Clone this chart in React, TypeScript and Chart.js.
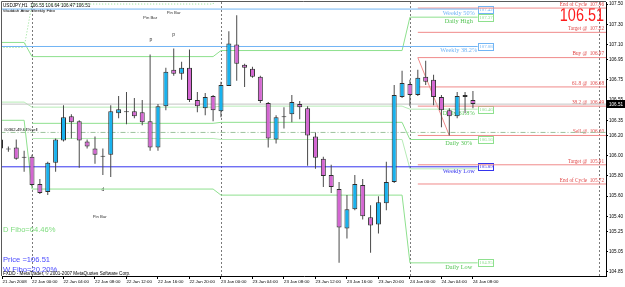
import React, { useEffect, useRef } from "react";
import { Chart, registerables } from "chart.js";

Chart.register(...registerables);

// ---------- candles (USDJPY H1), bar index 0 = 22 Jan 00:00 ----------
const FIRST_BAR = -4;
const opens = [
  106.16, 106.06, 106.08, 105.99, 105.99, 105.72, 105.64, 105.93, 106.15, 106.39,
  106.34, 106.14, 106.07, 106.0, 106.01, 106.42, 106.44, 106.44, 106.43, 106.34,
  106.08, 106.49, 106.85, 106.81, 106.87, 106.55, 106.47, 106.59, 106.44, 106.69,
  107.1, 106.9, 106.86, 106.78, 106.52, 106.16, 106.39, 106.41, 106.51, 106.47,
  106.19, 105.97, 105.81, 105.67, 105.28, 105.47, 105.71, 105.39, 105.32, 105.53,
  105.74, 106.58, 106.71, 106.6, 106.78, 106.75, 106.58, 106.45, 106.39, 106.6, 106.55,
];
const highs = [
  106.18, 106.09, 106.16, 106.05, 106.01, 105.77, 105.94, 106.17, 106.5, 106.41,
  106.35, 106.16, 106.19, 106.07, 106.5, 106.59, 106.63, 106.57, 106.55, 107.0,
  106.51, 106.87, 107.06, 106.93, 107.05, 106.63, 106.62, 106.6, 106.73, 107.23,
  107.39, 106.91, 106.88, 106.79, 106.53, 106.4, 106.48, 106.6, 106.54, 106.49,
  106.23, 105.99, 105.91, 105.74, 105.61, 105.81, 105.77, 105.51, 105.6, 105.94,
  106.7, 106.84, 106.75, 106.85, 106.94, 106.8, 106.6, 106.47, 106.63, 106.63, 106.64,
];
const lows = [
  106.05, 106.04, 105.96, 105.84, 105.7, 105.62, 105.61, 105.84, 106.14, 106.17,
  105.88, 106.07, 105.92, 105.81, 105.79, 106.37, 106.31, 106.37, 106.3, 106.05,
  106.05, 106.45, 106.79, 106.75, 106.53, 106.43, 106.4, 106.34, 106.38, 106.69,
  106.74, 106.68, 106.77, 106.52, 106.08, 106.12, 106.27, 106.33, 106.36, 105.9,
  105.87, 105.69, 105.63, 104.94, 105.18, 105.46, 105.37, 105.04, 105.23, 105.46,
  105.73, 106.57, 106.49, 106.59, 106.7, 106.5, 106.28, 106.2, 106.37, 106.42, 106.47,
];
const closes = [
  106.07, 106.07, 105.97, 105.98, 105.71, 105.63, 105.93, 106.16, 106.38, 106.33,
  106.15, 106.09, 106.01, 105.99, 106.44, 106.46, 106.43, 106.39, 106.33, 106.08,
  106.49, 106.83, 106.81, 106.87, 106.55, 106.49, 106.58, 106.45, 106.7, 107.11,
  106.91, 106.87, 106.78, 106.54, 106.17, 106.38, 106.38, 106.53, 106.48, 106.2,
  105.98, 105.8, 105.69, 105.29, 105.47, 105.72, 105.4, 105.31, 105.54, 105.74,
  106.6, 106.72, 106.6, 106.77, 106.73, 106.58, 106.45, 106.39, 106.59, 106.58, 106.51,
];

// ---------- axes ----------
const xTickBars = [-3.75, 0, 4, 8, 12, 16, 20, 24, 28, 32, 36, 40, 44, 48, 52, 56];
const xTickLabels = [
  "21 Jan 2008", "22 Jan 00:00", "22 Jan 04:00", "22 Jan 08:00", "22 Jan 12:00", "22 Jan 16:00",
  "22 Jan 20:00", "23 Jan 00:00", "23 Jan 04:00", "23 Jan 08:00", "23 Jan 12:00", "23 Jan 16:00",
  "23 Jan 20:00", "24 Jan 00:00", "24 Jan 04:00", "24 Jan 08:00",
];
const yTickValues = [107.5, 107.3, 107.1, 106.95, 106.75, 106.55, 106.35, 106.2, 106.0, 105.8, 105.6, 105.4, 105.25, 105.05, 104.85];
const daySeparatorBars = [0, 24, 48, 72];

// ---------- daily levels (21, 22, 23, 24 Jan) ----------
const dayStartBars = [-4, 0, 24, 48];
const dayEndBars = [-1, 23, 47, 56.6];
const dailyHigh = [107.12, 106.98, 107.04, 107.37];
const dailyTop = [107.07, 107.5, 107.8, 107.8];
const daily618 = [106.53, 106.48, 106.49, 106.46];
const dailyMid = [null, 106.32, 106.33, 106.16];
const daily382 = [null, 106.17, 106.16, 105.87];
const dailyLow = [106.35, 105.67, 105.61, 104.94];
const dailyBoxes = ["107.37", "106.46", "106.16", "104.95"];

// ---------- weekly levels ----------
const weeklyLevels = [107.45, 107.08, 105.89];
const weeklyNames = ["Weekly 50%", "Weekly 38.2%", "Weekly Low"];
const weeklyBoxes = ["107.42", "107.08", "105.89"];

// ---------- signal levels ----------
const signalLevels = [107.46, 107.22, 106.97, 106.68, 106.49, 106.2, 105.91, 105.72];
const signalLabels = [
  "End of Cycle  107.46", "Target @  107.22", "Buy @  106.97", "61.8 @  106.68",
  "38.2 @  106.49", "Sell @  106.20", "Target @  105.91", "End of Cycle  105.72",
];
const signalLineBars = [49, 53];
const signalLinePrices = [106.97, 106.2];
const pivotLevel = 106.23;
const bidPrice = 106.51;

const pinBarBars = [15, 18, 8.6];
const pinBarTextPrices = [107.36, 107.41, 105.4];
const pinMarkBars = [15.1, 18, 9];
const pinMarkPrices = [107.15, 107.2, 105.66];
const pinMarks = ["p", "p", "d"];

const BULL = "#18b2ee";
const BEAR = "#d466d2";
const OUTLINE = "#2e2e2e";
const WICK = "#4a4a4a";
const GREEN = "#8ee08e";
const GREEN_LIGHT = "#b6ebb6";
const GREEN_TEXT = "#55c455";
const WEEK_BLUE = "#72b5f4";
const WEEK_LOW = "#3434ee";
const RED_LINE = "#f08a8a";
const RED_TEXT = "#e04646";

function stepPoints(values: (number | null)[]) {
  const pts: { x: number; y: number }[] = [];
  values.forEach((v, d) => {
    if (v !== null && v !== undefined) {
      pts.push({ x: dayStartBars[d], y: v }, { x: dayEndBars[d], y: v });
    }
  });
  return pts;
}

function lineDs(data: any[], color: string, dash: number[] = [], width = 1) {
  return {
    type: "line",
    data,
    borderColor: color,
    borderWidth: width,
    borderDash: dash,
    pointRadius: 0,
    tension: 0,
    fill: false,
    order: 2,
  };
}

const overlay = {
  id: "mtOverlay",
  beforeDatasetsDraw(chart: any) {
    const { ctx, chartArea: ca, scales } = chart;
    const px = (b: number) => scales.x.getPixelForValue(b);
    const py = (p: number) => scales.y.getPixelForValue(p);
    const text = (s: string, x: number, y: number, font: string, color: string, align = "left", base = "alphabetic") => {
      ctx.font = font;
      ctx.fillStyle = color;
      ctx.textAlign = align;
      ctx.textBaseline = base;
      ctx.fillText(s, x, y);
    };
    ctx.save();
    ctx.beginPath();
    ctx.rect(ca.left, ca.top, ca.right - ca.left, ca.bottom - ca.top);
    ctx.clip();

    ctx.strokeStyle = "#7a7a7a";
    ctx.lineWidth = 1;
    ctx.setLineDash([2, 2]);
    daySeparatorBars.forEach((b) => {
      const x = Math.round(px(b)) + 0.5;
      ctx.beginPath();
      ctx.moveTo(x, ca.top);
      ctx.lineTo(x, ca.bottom);
      ctx.stroke();
    });
    ctx.setLineDash([]);

    // level names
    const nameX = px(54.2);
    const serif = '6.3px "Liberation Serif"';
    const names: [string, number, string][] = [
      [weeklyNames[0], weeklyLevels[0], WEEK_BLUE],
      ["Daily High", dailyHigh[3], GREEN_TEXT],
      [weeklyNames[1], weeklyLevels[1], WEEK_BLUE],
      ["Daily 61.8%", daily618[3], GREEN_TEXT],
      ["Daily 30%", dailyMid[3] as number, GREEN_TEXT],
      [weeklyNames[2], weeklyLevels[2], WEEK_LOW],
      ["Daily Low", dailyLow[3], GREEN_TEXT],
    ];
    names.forEach(([s, v, c]) => text(s, nameX, py(v) + 1, serif, c, "center", "top"));

    // value boxes
    const bx = Math.round(px(56.6)) + 0.5;
    const boxes: [string, number, string][] = [
      [weeklyBoxes[0], weeklyLevels[0], WEEK_BLUE],
      [dailyBoxes[0], dailyHigh[3], GREEN],
      [weeklyBoxes[1], weeklyLevels[1], WEEK_BLUE],
      [dailyBoxes[1], daily618[3], GREEN],
      [dailyBoxes[2], dailyMid[3] as number, GREEN],
      [weeklyBoxes[2], weeklyLevels[2], WEEK_LOW],
      [dailyBoxes[3], dailyLow[3], GREEN],
    ];
    boxes.forEach(([s, v, c]) => {
      const y = Math.round(py(v) - 3.5) + 0.5;
      ctx.fillStyle = "#ffffff";
      ctx.fillRect(bx, y, 15, 7);
      ctx.strokeStyle = c;
      ctx.strokeRect(bx, y, 15, 7);
      text(s, bx + 7.5, y + 3.7, '4.9px "Liberation Serif"', c, "center", "middle");
    });

    // signal labels
    signalLevels.forEach((v, k) =>
      text(signalLabels[k], px(72.65), py(v) - 1, '5.2px "Liberation Serif"', RED_TEXT, "right", "bottom")
    );

    // big bid
    ctx.save();
    ctx.font = '19px "Liberation Sans"';
    ctx.fillStyle = "#ff1c1c";
    ctx.textAlign = "right";
    ctx.textBaseline = "alphabetic";
    ctx.translate(ca.right - 2, ca.top + 19);
    ctx.scale(0.76, 1);
    ctx.fillText(bidPrice.toFixed(2), 0, 0);
    ctx.restore();

    // header texts
    const small = '4.6px "Liberation Sans"';
    text("USDJPY,H1  106.55 106.64 106.47 106.51", ca.left + 1, ca.top + 5, small, "#000");
    text("Waddah Attar Weekly Fibo", ca.left + 1, ca.top + 10, '4.4px "Liberation Sans"', "#000");
    text("#0362-49.64%sell", ca.left + 2, py(pivotLevel) - 1.5, '4.2px "Liberation Sans"', "#000");

    // pin bars
    pinBarBars.forEach((b, k) => text("Pin Bar", px(b), py(pinBarTextPrices[k]), '4.3px "Liberation Sans"', "#333", "center", "middle"));
    pinMarkBars.forEach((b, k) => text(pinMarks[k], px(b), py(pinMarkPrices[k]), '5px "Liberation Sans"', "#333", "center", "middle"));

    // info texts
    const big = '7.6px "Liberation Sans"';
    text("D Fibo=64.46%", ca.left + 1, ca.bottom - 44, big, "#7edc7e");
    text("Price =" + bidPrice.toFixed(2), ca.left + 1, ca.bottom - 14, big, "#4848ff");
    text("W Fibo=20.20%", ca.left + 1, ca.bottom - 4, big, "#4848ff");
    text("FXDD - MetaTrader, \u00a9 2001-2007 MetaQuotes Software Corp.", ca.left + 1, ca.bottom - 1, '4.6px "Liberation Sans"', "#000");

    ctx.restore();
  },
  afterDraw(chart: any) {
    const { ctx, chartArea: ca, scales } = chart;
    ctx.save();
    ctx.strokeStyle = "#5a5a5a";
    ctx.lineWidth = 1;
    ctx.beginPath();
    ctx.moveTo(ca.left - 0.5, ca.bottom);
    ctx.lineTo(ca.left - 0.5, ca.top - 0.5);
    ctx.lineTo(ca.right, ca.top - 0.5);
    ctx.stroke();
    const y = Math.round(scales.y.getPixelForValue(bidPrice));
    ctx.fillStyle = "#000";
    ctx.fillRect(ca.right + 1, y - 4, 18, 8);
    ctx.font = '4.6px "Liberation Sans"';
    ctx.fillStyle = "#fff";
    ctx.textAlign = "left";
    ctx.textBaseline = "middle";
    ctx.fillText(bidPrice.toFixed(2), ca.right + 3, y + 0.3);
    ctx.restore();
  },
};

export default function App() {
  const ref = useRef<HTMLCanvasElement | null>(null);
  useEffect(() => {
    document.body.style.margin = "0";
    const canvas = ref.current;
    if (!canvas) return;
    const bars = opens.map((_, k) => FIRST_BAR + k);
    const bodies = bars.map((b, k) => ({ x: b, y: [opens[k], closes[k]] }));
    const wicks = bars.map((b, k) => ({ x: b, y: [lows[k], highs[k]] }));
    const bodyColors = opens.map((o, k) => (closes[k] >= o ? BULL : BEAR));
    const full = (v: number, from = -4, to = 56.6) => [{ x: from, y: v }, { x: to, y: v }];

    const chart = new Chart(canvas, {
      type: "bar",
      data: {
        datasets: [
          {
            type: "bar",
            data: bodies,
            backgroundColor: bodyColors,
            borderColor: OUTLINE,
            borderWidth: 1,
            borderSkipped: false,
            barThickness: 5,
            grouped: false,
            inflateAmount: 0,
            order: 0,
          },
          {
            type: "bar",
            data: wicks,
            backgroundColor: WICK,
            borderWidth: 0,
            barThickness: 1,
            grouped: false,
            inflateAmount: 0,
            order: 1,
          },
          lineDs(full(bidPrice, -4, 73), "#c4c4c4"),
          lineDs(full(pivotLevel, -4, 73), "#9cc29c", [5, 2, 1, 2]),
          lineDs(full(weeklyLevels[0]), WEEK_BLUE),
          lineDs(full(weeklyLevels[1]), WEEK_BLUE),
          lineDs(full(weeklyLevels[2]), WEEK_LOW),
          lineDs(stepPoints(dailyHigh), GREEN),
          lineDs(stepPoints(dailyTop), GREEN, [1, 2]),
          lineDs(stepPoints(daily618), GREEN_LIGHT),
          lineDs(stepPoints(dailyMid), GREEN),
          lineDs(stepPoints(daily382), GREEN_LIGHT),
          lineDs(stepPoints(dailyLow), GREEN),
          ...signalLevels.map((v) => lineDs(full(v, 49, 73), RED_LINE)),
          lineDs(signalLineBars.map((b, k) => ({ x: b, y: signalLinePrices[k] })), RED_LINE),
        ] as any,
      },
      options: {
        animation: false,
        responsive: false,
        maintainAspectRatio: false,
        events: [],
        layout: { padding: { left: 2, top: 2, right: 0, bottom: 0 } },
        plugins: { legend: { display: false }, tooltip: { enabled: false } },
        scales: {
          x: {
            type: "linear",
            position: "bottom",
            min: -3.81,
            max: 72.9,
            offset: false,
            afterBuildTicks: (s: any) => {
              s.ticks = xTickBars.map((v) => ({ value: v }));
            },
            afterFit: (s: any) => {
              s.height = 11;
              s.paddingLeft = 0;
              s.paddingRight = 0;
            },
            ticks: {
              autoSkip: false,
              maxRotation: 0,
              minRotation: 0,
              align: "start",
              padding: 0,
              color: "#000",
              font: { family: "Liberation Sans", size: 4.4 },
              callback: (_v: any, i: number) => xTickLabels[i],
            },
            grid: { drawOnChartArea: false, drawTicks: true, tickLength: 3, color: "#000", offset: false },
            border: { display: true, color: "#000" },
          },
          y: {
            type: "linear",
            position: "right",
            min: 104.81,
            max: 107.52,
            afterBuildTicks: (s: any) => {
              s.ticks = yTickValues.map((v) => ({ value: v }));
            },
            afterFit: (s: any) => {
              s.width = 19;
              s.paddingTop = 0;
              s.paddingBottom = 0;
            },
            ticks: {
              autoSkip: false,
              padding: 1,
              color: "#000",
              font: { family: "Liberation Sans", size: 4.6 },
              callback: (v: any) => Number(v).toFixed(2),
            },
            grid: { drawOnChartArea: false, drawTicks: true, tickLength: 2, color: "#000" },
            border: { display: true, color: "#000" },
          },
        },
      } as any,
      plugins: [overlay],
    });
    return () => chart.destroy();
  }, []);

  return (
    <div style={{ position: "relative", width: 625, height: 287, background: "#fff" }}>
      <canvas ref={ref} width={625} height={287} style={{ display: "block", width: 625, height: 287 }} />
    </div>
  );
}
